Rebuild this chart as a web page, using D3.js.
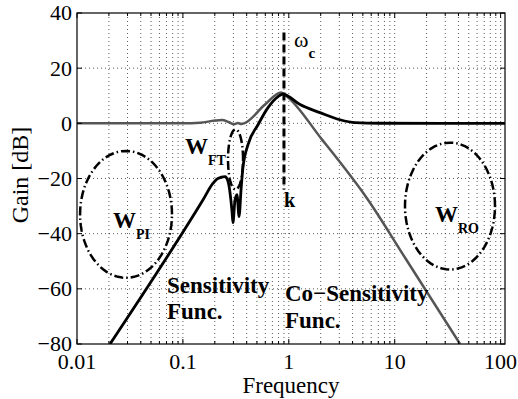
<!DOCTYPE html>
<html lang="en">
<head>
  <meta charset="UTF-8">
  <title>sensitivity functions</title>
  <style>
    body { margin: 0; background: #fff; }
    text { font-family: "Liberation Serif", "Times New Roman", serif; fill: #000; }
    .grid line { stroke: #333; stroke-width: 0.8; stroke-dasharray: 1,3; }
    .note { font-weight: bold; }
  </style>
</head>
<body>
  <svg width="518" height="399"></svg>
  <script src="https://cdn.jsdelivr.net/npm/d3@7"></script>
  <script>
    // tick labels
    var xTicks = [0.01, 0.1, 1, 10, 100];
    var yTicks = [-80, -60, -40, -20, 0, 20, 40];

    // sensitivity function (black)
    var sensFreq = [0.0205, 0.155, 0.192, 0.214, 0.250, 0.267, 0.291, 0.297, 0.310, 0.324, 0.339, 0.354, 0.369, 0.412, 0.512, 0.636, 0.791, 0.882, 0.921, 1.276, 1.97, 3.04, 4.22, 7.26, 110];
    var sensGain = [-80, -27.7, -21.8, -20.0, -19.3, -21.1, -32, -36, -28, -25.9, -33.8, -24, -16, -7.7, -0.5, 5.7, 9.7, 10.6, 10.4, 6.8, 3.9, 1.3, 0.25, 0.03, 0];

    // co-sensitivity function (gray)
    var compFreq = [0.01, 0.1, 0.145, 0.201, 0.234, 0.272, 0.304, 0.331, 0.354, 0.378, 0.596, 0.844, 0.921, 2.06, 5.59, 12.7, 41.4];
    var compGain = [0, 0, 0.2, 1.0, 1.2, 0.4, -0.3, 0.1, -0.2, 0, 6.8, 11.2, 10.3, -5.9, -27.7, -49.1, -80];

    // weighting regions: centre (log10 freq), centre gain, half width (decades), half height (dB)
    var regionNames = ["PI", "FT", "RO"];
    var regionLogF = [-1.537, -0.503, 1.522];
    var regionGain = [-33, -13.1, -30];
    var regionHalfW = [0.434, 0.071, 0.425];
    var regionHalfH = [23, 10.9, 23];

    // crossover marker
    var wc = 0.9;
    var wcGain = [32.9, -24];

    var svg = d3.select("svg"),
      pL = 77, pR = 505, pT = 13, pB = 344;

    var x = d3.scaleLog().domain([0.01, 110]).range([pL, pR]),
      y = d3.scaleLinear().domain([-80, 40]).range([pB, pT]);

    // grid
    var minor = [];
    [0.01, 0.1, 1, 10].forEach(function(d) {
      for (var i = 1; i < 10; i++) minor.push(d * i);
    });
    minor.push(100);

    var grid = svg.append("g").attr("class", "grid");
    grid.selectAll(".gx").data(minor.slice(1)).enter().append("line")
      .attr("x1", function(d) { return x(d); }).attr("x2", function(d) { return x(d); })
      .attr("y1", pT).attr("y2", pB);
    grid.selectAll(".gy").data(yTicks.slice(1, -1)).enter().append("line")
      .attr("x1", pL).attr("x2", pR)
      .attr("y1", function(d) { return y(d); }).attr("y2", function(d) { return y(d); });

    svg.append("clipPath").attr("id", "clip").append("rect")
      .attr("x", pL).attr("y", pT).attr("width", pR - pL).attr("height", pB - pT);

    var plot = svg.append("g").attr("clip-path", "url(#clip)");

    var line = d3.line()
      .x(function(d) { return x(d[0]); })
      .y(function(d) { return y(d[1]); })
      .curve(d3.curveMonotoneX);

    // ellipses
    var ell = d3.line()
      .x(function(d) { return x(Math.pow(10, d[0])); })
      .y(function(d) { return y(d[1]); })
      .curve(d3.curveLinearClosed);
    regionNames.forEach(function(n, k) {
      var pts = d3.range(0, 72).map(function(i) {
        var t = i / 72 * 2 * Math.PI;
        return [regionLogF[k] + regionHalfW[k] * Math.cos(t), regionGain[k] + regionHalfH[k] * Math.sin(t)];
      });
      plot.append("path").attr("d", ell(pts))
        .attr("fill", "none").attr("stroke", "#000").attr("stroke-width", 2.5)
        .attr("stroke-dasharray", "9,3,1.5,3");
    });

    plot.append("path")
      .attr("d", line(d3.zip(compFreq, compGain)))
      .attr("fill", "none").attr("stroke", "#555").attr("stroke-width", 2.5);

    plot.append("path")
      .attr("d", line(d3.zip(sensFreq, sensGain)))
      .attr("fill", "none").attr("stroke", "#000").attr("stroke-width", 2.8);

    // crossover line
    svg.append("line")
      .attr("x1", x(wc)).attr("x2", x(wc))
      .attr("y1", y(wcGain[0])).attr("y2", y(wcGain[1]))
      .attr("stroke", "#000").attr("stroke-width", 3).attr("stroke-dasharray", "8,4");

    // box and ticks
    svg.append("rect").attr("x", pL).attr("y", pT)
      .attr("width", pR - pL).attr("height", pB - pT)
      .attr("fill", "none").attr("stroke", "#000").attr("stroke-width", 1.2);

    var ticks = svg.append("g").attr("stroke", "#000").attr("stroke-width", 1);
    minor.forEach(function(d) {
      var len = xTicks.indexOf(d) >= 0 ? 5 : 3;
      ticks.append("line").attr("x1", x(d)).attr("x2", x(d)).attr("y1", pB).attr("y2", pB - len);
      ticks.append("line").attr("x1", x(d)).attr("x2", x(d)).attr("y1", pT).attr("y2", pT + len);
    });
    yTicks.forEach(function(d) {
      ticks.append("line").attr("x1", pL).attr("x2", pL + 5).attr("y1", y(d)).attr("y2", y(d));
      ticks.append("line").attr("x1", pR).attr("x2", pR - 5).attr("y1", y(d)).attr("y2", y(d));
    });

    svg.selectAll(".xl").data(xTicks).enter().append("text")
      .attr("x", function(d) { return x(d); }).attr("y", 369)
      .attr("text-anchor", "middle").style("font-size", "22px")
      .text(function(d) { return d; });

    svg.selectAll(".yl").data(yTicks).enter().append("text")
      .attr("x", 72).attr("y", function(d) { return y(d); }).attr("dy", "0.34em")
      .attr("text-anchor", "end").style("font-size", "22px")
      .text(function(d) { return d < 0 ? "\u2212" + (-d) : d; });

    svg.append("text").attr("x", 291).attr("y", 393)
      .attr("text-anchor", "middle").style("font-size", "23px").text("Frequency");
    svg.append("text").attr("transform", "translate(28,175) rotate(-90)")
      .attr("text-anchor", "middle").style("font-size", "24px").text("Gain [dB]");

    // annotations
    function wsub(px, py, sub) {
      var t = svg.append("text").attr("class", "note").attr("x", px).attr("y", py).style("font-size", "23px");
      t.append("tspan").text("W");
      t.append("tspan").attr("dy", 11).style("font-size", "14px").text(sub);
    }
    wsub(113, 228, "PI");
    wsub(185, 154, "FT");
    wsub(435, 222, "RO");

    var wct = svg.append("text").attr("x", 294).attr("y", 47).style("font-size", "22px");
    wct.append("tspan").text("\u03c9");
    wct.append("tspan").attr("dy", 11).attr("class", "note").style("font-size", "15px").text("c");

    svg.append("text").attr("class", "note").attr("x", 284).attr("y", 207).style("font-size", "20px").text("k");

    svg.append("text").attr("class", "note").attr("x", 167).attr("y", 293).style("font-size", "23px").text("Sensitivity");
    svg.append("text").attr("class", "note").attr("x", 167).attr("y", 319).style("font-size", "23px").text("Func.");
    svg.append("text").attr("class", "note").attr("x", 285).attr("y", 301).style("font-size", "23px").text("Co\u2212Sensitivity");
    svg.append("text").attr("class", "note").attr("x", 285).attr("y", 328).style("font-size", "23px").text("Func.");
  </script>
</body>
</html>
